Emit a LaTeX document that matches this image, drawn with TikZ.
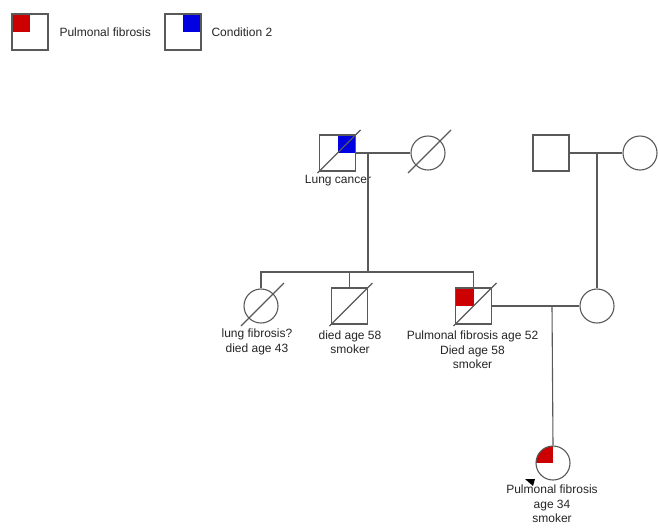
\documentclass[tikz,border=0pt]{standalone}
\usepackage{fontspec}
\setmainfont{Liberation Sans}
\usetikzlibrary{positioning}
\definecolor{fibred}{RGB}{204,0,0}
\definecolor{condblue}{RGB}{0,0,225}
\newcommand{\slashnode}[1]{\draw ([shift={(-20pt,-20pt)}]#1.center) -- ([shift={(23pt,23pt)}]#1.center);}

\begin{document}
\begin{tikzpicture}[x=1pt, y=-1pt, line width=1.1pt, color=black!65,
    male/.style = {draw, rectangle, minimum size=36pt, inner sep=0pt, fill=white},
    female/.style = {draw, circle, minimum size=34pt, inner sep=0pt, fill=white},
    fibrosis/.style = {path picture={\fill[fibred] (path picture bounding box.north west) rectangle (path picture bounding box.center);}},
    cond/.style = {path picture={\fill[condblue] (path picture bounding box.north east) rectangle (path picture bounding box.center);}},
    lbl/.style = {text=black!85, font=\fontsize{12}{14.5}\selectfont, align=center, inner sep=0pt}]
    \fill[white] (0,0) rectangle (658,528);
    \useasboundingbox (0,0) rectangle (658,528);
    % legend
    \node[male, fibrosis] (leg1) at (30,32) {};
    \node[lbl, anchor=west] (leg1txt) at (59,32) {Pulmonal fibrosis};
    \node[male, cond] (leg2) at (183,32) {};
    \node[lbl, anchor=west] (leg2txt) at (211,32) {Condition 2};
    % grandparents
    \node[male, cond] (gpa1) at (337.5,153) {};
    \node[female] (gma1) at (428,153) {};
    \node[male] (gpa2) at (551,153) {};
    \node[female] (gma2) at (640,153) {};
    \slashnode{gpa1}
    \slashnode{gma1}
    \node[lbl] (gpa1lbl) at (338,181) {Lung cancer};
    \coordinate (m1) at (368,153);
    \coordinate (sib) at (368,272);
    \coordinate (m2) at (597,153);
    % children
    \node[female] (aunt) at (261,306) {};
    \node[male] (uncle) at (349.5,306) {};
    \node[male, fibrosis] (father) at (473.5,306) {};
    \node[female] (mother) at (597,306) {};
    \slashnode{aunt}
    \slashnode{uncle}
    \slashnode{father}
    \node[lbl] (auntlbl) at (257,342) {lung fibrosis?\\died age 43};
    \node[lbl] (unclelbl) at (350,342) {died age 58\\smoker};
    \node[lbl] (fatherlbl) at (472.5,350) {Pulmonal fibrosis age 52\\Died age 58\\smoker};
    \coordinate (m3) at (552,306);
    % proband
    \node[female, fibrosis] (proband) at (553,463) {};
    \fill[black] (525,479) -- (535,479) -- (533,486) -- cycle;
    \node[lbl] (probandlbl) at (552,504) {Pulmonal fibrosis\\age 34\\smoker};
    \draw (gpa1) -- (gma1);
    \draw (gpa2) -- (gma2);
    \draw (father) -- (mother);
    \draw (m1) -- (sib);
    \draw (aunt.north) |- (sib) -| (father.north);
    \draw (uncle.north) -- (uncle.north |- sib);
    \draw (m2) -- (mother.north);
    \draw (m3) -- (proband.north);
\end{tikzpicture}
\end{document}
